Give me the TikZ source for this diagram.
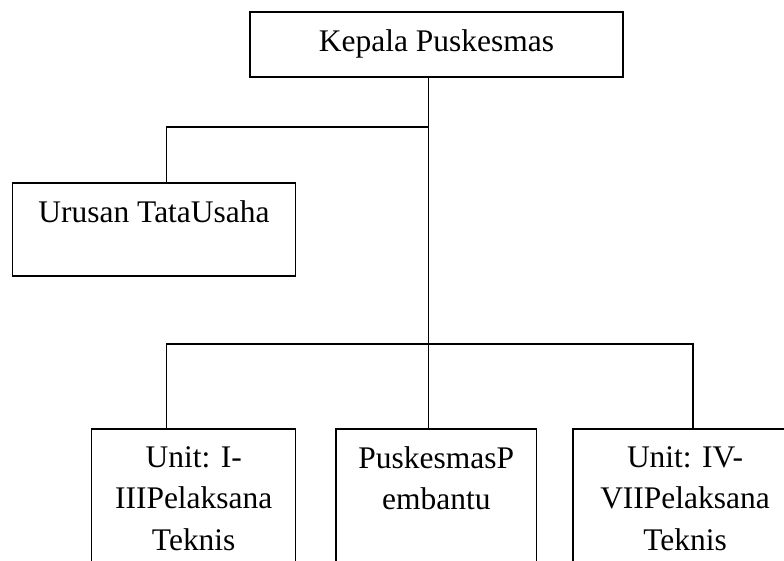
\documentclass[tikz,border=0pt]{standalone}
\usepackage{fontspec}
\setmainfont{Liberation Serif}
\begin{document}
\begin{tikzpicture}[x=0.75pt, y=-0.75pt,
  box/.style={draw, line width=0.9pt, inner sep=0pt},
  label text/.style={anchor=north, inner sep=0pt, align=center, font=\fontsize{23.6pt}{31pt}\selectfont},
  line/.style={line width=0.8pt}
]
\clip (0,0) rectangle (784,560);
\fill[white] (0,0) rectangle (784,560);
% boxes
\node[box, minimum width=279.75pt, minimum height=48.75pt] (kepala) at (436.5,44.5) {};
\node[box, minimum width=212.25pt, minimum height=69.75pt] (urusan) at (154,229.5) {};
\node[box, minimum width=153pt, minimum height=143.25pt] (unitA) at (193.7,524.5) {};
\node[box, minimum width=150.5pt, minimum height=143.25pt] (pembantu) at (436.3,524.5) {};
\node[box, minimum width=168pt, minimum height=143.25pt] (unitB) at (685,524.5) {};
% texts
\node[label text] (kepala-t) at (436.5,29.4) {Kepala Puskesmas};
\node[label text] (urusan-t) at (154,200.4) {Urusan TataUsaha};
\node[label text] (unitA-t) at (193.7,446.4) {Unit: I-\\IIIPelaksana\\Teknis};
\node[label text] (pembantu-t) at (436.3,446.4) {PuskesmasP\\embantu};
\node[label text] (unitB-t) at (685,446.4) {Unit: IV-\\VIIPelaksana\\Teknis};
% connectors
\coordinate (trunk) at (428.5,127);
\coordinate (tu) at (166.5,127);
\coordinate (barL) at (166.5,344);
\coordinate (barR) at (693,344);
\draw[line] (trunk |- kepala.south) -- (trunk |- pembantu.north);
\draw[line] (trunk) -- (tu) -- (tu |- urusan.north);
\draw[line] (barL |- unitA.north) -- (barL) -- (barR) -- (barR |- unitB.north);
\end{tikzpicture}
\end{document}
